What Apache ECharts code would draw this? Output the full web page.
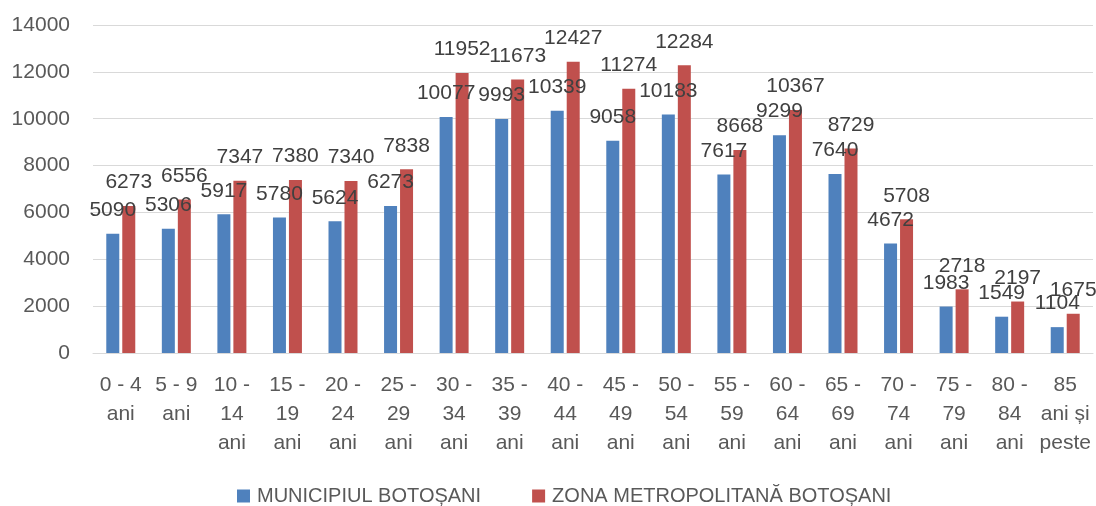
<!DOCTYPE html>
<html>
<head>
<meta charset="utf-8">
<script src="https://cdn.jsdelivr.net/npm/echarts@6/dist/echarts.min.js"></script>
<style>
html,body{margin:0;padding:0;background:#fff;}
#chart{width:1096px;height:506px;}
</style>
</head>
<body>
<div id="chart"></div>
<script>
const categories = ["0 - 4\nani","5 - 9\nani","10 -\n14\nani","15 -\n19\nani","20 -\n24\nani","25 -\n29\nani","30 -\n34\nani","35 -\n39\nani","40 -\n44\nani","45 -\n49\nani","50 -\n54\nani","55 -\n59\nani","60 -\n64\nani","65 -\n69\nani","70 -\n74\nani","75 -\n79\nani","80 -\n84\nani","85\nani și\npeste"];
const seriesNames = ["MUNICIPIUL BOTOȘANI", "ZONA METROPOLITANĂ BOTOȘANI"];
const municipiu = [5090,5306,5917,5780,5624,6273,10077,9993,10339,9058,10183,7617,9299,7640,4672,1983,1549,1104];
const zonaMetro = [6273,6556,7347,7380,7340,7838,11952,11673,12427,11274,12284,8668,10367,8729,5708,2718,2197,1675];
const yTicks = {min:0, max:14000, interval:2000};

const font = "'Liberation Sans', Arial, sans-serif";
const chart = echarts.init(document.getElementById('chart'), null, {renderer:'canvas'});
const labelCfg = {show:true, position:'top', distance:13, color:'#404040', fontSize:21, fontFamily:font};
chart.setOption({
  animation:false,
  backgroundColor:'#fff',
  grid:{left:93, right:3, top:25, bottom:153, containLabel:false},
  legend:{
    data:seriesNames, top:481, left:232, itemWidth:13, itemHeight:13, itemGap:51, icon:'rect',
    textStyle:{color:'#595959', fontSize:20, fontFamily:font, padding:[0,0,0,2]}
  },
  xAxis:{
    type:'category', data:categories,
    axisLine:{lineStyle:{color:'#d9d9d9', width:1}},
    axisTick:{show:false},
    axisLabel:{interval:0, color:'#595959', fontSize:21, fontFamily:font, lineHeight:29, margin:18}
  },
  yAxis:{
    type:'value', min:yTicks.min, max:yTicks.max, interval:yTicks.interval,
    axisLine:{show:false}, axisTick:{show:false},
    splitLine:{lineStyle:{color:'#d9d9d9', width:1}},
    axisLabel:{color:'#595959', fontSize:21, fontFamily:font, margin:23, formatter:function(v){return String(v);}}
  },
  series:[
    {name:seriesNames[0], type:'bar', data:municipiu, barWidth:13, barGap:'23%',
     itemStyle:{color:'#4F81BD'}, label:labelCfg},
    {name:seriesNames[1], type:'bar', data:zonaMetro, barWidth:13, barGap:'23%',
     itemStyle:{color:'#C0504D'}, label:labelCfg}
  ]
});
</script>
</body>
</html>
